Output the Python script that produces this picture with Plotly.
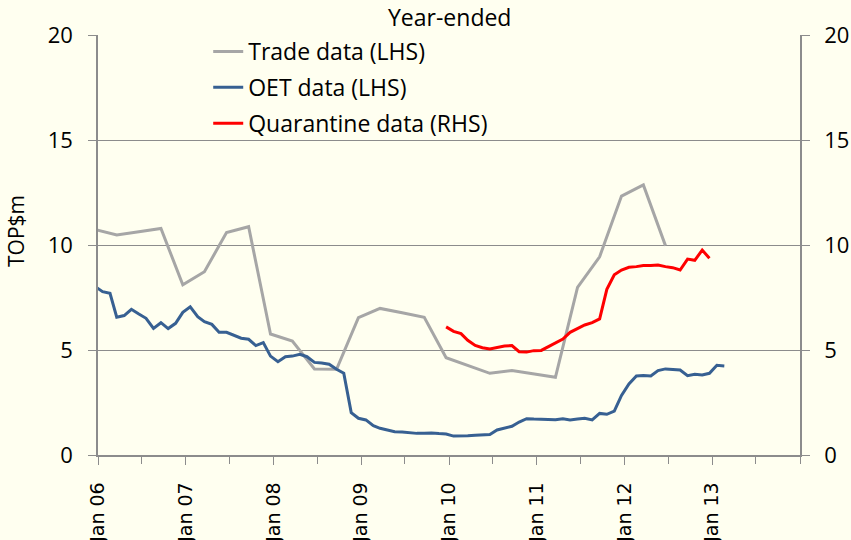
import pandas as pd
import plotly.graph_objects as go

# ---- data ----
# Trade data (LHS), quarterly, Dec 2005 .. Jun 2012
trade_start = "2005-12-01"
trade_values = [10.74, 10.48, 10.63, 10.79, 8.10, 8.73, 10.59, 10.87, 5.76, 5.43,
                4.10, 4.08, 6.54, 6.98, 6.77, 6.56, 4.63, 4.26, 3.89, 4.02,
                3.86, 3.70, 7.98, 9.44, 12.33, 12.86, 9.97]

# OET data (LHS), monthly, Dec 2005 .. Feb 2013
oet_start = "2005-12-01"
oet_values = [8.02, 7.78, 7.70, 6.56, 6.64, 6.94, 6.71, 6.51, 6.03, 6.30, 6.02, 6.27,
              6.79, 7.06, 6.59, 6.35, 6.22, 5.84, 5.84, 5.71, 5.56, 5.51, 5.21, 5.35,
              4.71, 4.44, 4.68, 4.71, 4.79, 4.68, 4.41, 4.38, 4.32, 4.08, 3.89, 2.02,
              1.75, 1.67, 1.40, 1.27, 1.19, 1.11, 1.10, 1.05, 1.03, 1.03, 1.05, 1.02,
              1.00, 0.90, 0.90, 0.92, 0.94, 0.95, 0.98, 1.19, 1.27, 1.37, 1.57, 1.73,
              1.71, 1.70, 1.67, 1.68, 1.73, 1.67, 1.71, 1.75, 1.67, 1.98, 1.94, 2.09,
              2.84, 3.38, 3.76, 3.78, 3.76, 4.02, 4.10, 4.08, 4.05, 3.78, 3.84, 3.81,
              3.89, 4.27, 4.24]

# Quarantine data (RHS), monthly, Dec 2009 .. Dec 2012
quar_start = "2009-12-01"
quar_values = [6.10, 5.89, 5.78, 5.46, 5.22, 5.11, 5.05, 5.11, 5.19, 5.21, 4.92, 4.90,
               4.97, 4.98, 5.16, 5.32, 5.52, 5.84, 6.03, 6.19, 6.30, 6.48, 7.89, 8.58,
               8.81, 8.94, 8.97, 9.02, 9.02, 9.05, 8.97, 8.92, 8.81, 9.33, 9.27, 9.76,
               9.37]

tick_dates = ["2006-01-01", "2007-01-01", "2008-01-01", "2009-01-01",
              "2010-01-01", "2011-01-01", "2012-01-01", "2013-01-01"]
tick_labels = ["Jan 06", "Jan 07", "Jan 08", "Jan 09", "Jan 10", "Jan 11", "Jan 12", "Jan 13"]
y_ticks = [0, 5, 10, 15, 20]

# data points are dated around the 20th of each month
def dates(start, n, step):
    return pd.date_range(start, periods=n, freq=f"{step}MS") + pd.Timedelta(days=19)

trade_x = dates(trade_start, len(trade_values), 3)
oet_x = dates(oet_start, len(oet_values), 1)
quar_x = dates(quar_start, len(quar_values), 1)

GRAY = "#A6A6A6"
BLUE = "#376092"
RED = "#FF0000"
AXC = "#8C8C8C"
BG = "#FFFFF0"
FONT = "Open Sans"

fig = go.Figure()
fig.add_trace(go.Scatter(x=trade_x, y=trade_values, mode="lines", name="Trade data (LHS)",
                         line=dict(color=GRAY, width=3), legendgroup="a"))
fig.add_trace(go.Scatter(x=oet_x, y=oet_values, mode="lines", name="OET data (LHS)",
                         line=dict(color=BLUE, width=3), legendgroup="b"))
fig.add_trace(go.Scatter(x=quar_x, y=quar_values, mode="lines", name="Quarantine data (RHS)",
                         line=dict(color=RED, width=3), yaxis="y2", legendgroup="c"))

fig.update_layout(
    width=851, height=540,
    margin=dict(l=98, r=51, t=35, b=85, autoexpand=False),
    paper_bgcolor=BG, plot_bgcolor=BG,
    font=dict(family=FONT, size=22, color="black"),
    showlegend=True,
    legend=dict(x=0.157, y=1.012, xanchor="left", yanchor="top",
                bgcolor="rgba(0,0,0,0)", font=dict(size=23),
                itemwidth=30, tracegroupgap=3),
    xaxis=dict(type="date", range=["2006-01-01", "2014-01-01"], automargin=False,
               tickvals=tick_dates, ticktext=tick_labels, tickangle=-90,
               tickfont=dict(family="DejaVu Sans", size=19),
               ticks="outside", ticklen=8, tickcolor=AXC, tickwidth=1,
               minor=dict(dtick="M6", tick0="2006-01-01", ticks="outside", ticklen=7,
                          tickcolor=AXC, showgrid=False),
               showline=True, linecolor=AXC, linewidth=1.5,
               showgrid=False, zeroline=False, ticklabelstandoff=10),
    yaxis=dict(range=[0, 20], tickvals=y_ticks, ticks="outside", ticklen=8,
               tickcolor=AXC, showline=True, linecolor=AXC, linewidth=1.5,
               showgrid=True, gridcolor=AXC, gridwidth=1, zeroline=False,
               tickfont=dict(size=22), ticklabelstandoff=11, automargin=False),
    yaxis2=dict(range=[0, 20], tickvals=y_ticks, overlaying="y", side="right",
                ticks="outside", ticklen=8, tickcolor=AXC, showline=True,
                linecolor=AXC, linewidth=1.5, showgrid=False, zeroline=False,
                tickfont=dict(size=22), ticklabelstandoff=10, automargin=False),
    annotations=[
        dict(text="Year-ended", x=0.5, y=1.0, xref="paper", yref="paper",
             xanchor="center", yanchor="bottom", showarrow=False,
             font=dict(size=23)),
        dict(text="TOP$m", x=-0.117, y=0.533, xref="paper", yref="paper",
             xanchor="center", yanchor="middle", textangle=-90, showarrow=False,
             font=dict(size=21)),
    ],
)

fig.write_html(
    "out.html",
    config={"displayModeBar": False},
    post_script="document.body.style.margin='0';document.body.style.background='#FFFFF0';",
)
